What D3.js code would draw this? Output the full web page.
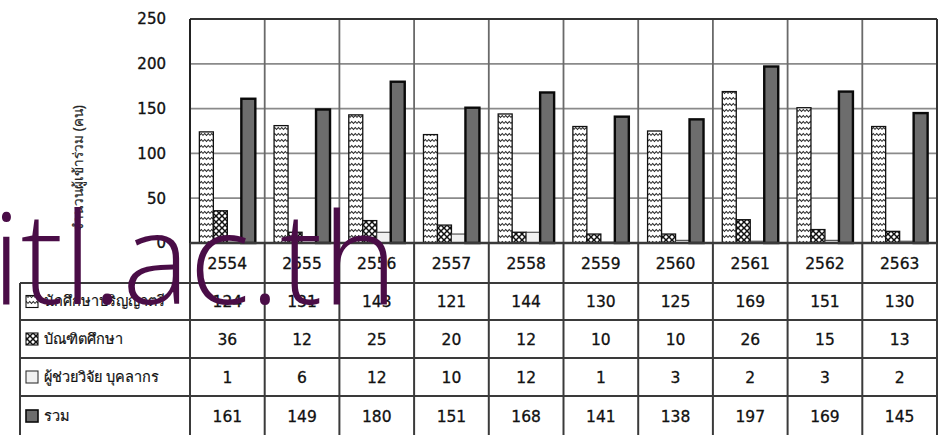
<!DOCTYPE html>
<html><head><meta charset="utf-8">
<script src="https://cdn.jsdelivr.net/npm/d3@7"></script>
<style>
html,body{margin:0;padding:0;background:#fff;}
svg{display:block;}
</style></head>
<body>
<svg id="chart" width="938" height="435"></svg>
<script>
const years = ["2554","2555","2556","2557","2558","2559","2560","2561","2562","2563"];
const seriesNames = ["นักศึกษาปริญญาตรี","บัณฑิตศึกษา","ผู้ช่วยวิจัย บุคลากร","รวม"];
const undergrad = [124,131,143,121,144,130,125,169,151,130];
const graduate  = [36,12,25,20,12,10,10,26,15,13];
const assistant = [1,6,12,10,12,1,3,2,3,2];
const total     = [161,149,180,151,168,141,138,197,169,145];
const yTicks = [0,50,100,150,200,250];
const yLabel = "จำนวนผู้เข้าร่วม (คน)";
const watermark = "itl.ac.th";

const seriesValues = [undergrad, graduate, assistant, total];

const svg = d3.select("#chart");
const defs = svg.append("defs");

// zigzag pattern
const pz = defs.append("pattern").attr("id","zig").attr("patternUnits","userSpaceOnUse")
  .attr("width",7).attr("height",6);
pz.append("rect").attr("width",7).attr("height",6).attr("fill","#fff");
pz.append("path").attr("d","M0,3.5 L1.75,1.5 L3.5,3.5 L5.25,1.5 L7,3.5")
  .attr("fill","none").attr("stroke","#222").attr("stroke-width",1.1);
// cross/check pattern
const pc = defs.append("pattern").attr("id","chk").attr("patternUnits","userSpaceOnUse")
  .attr("width",6).attr("height",6);
pc.append("rect").attr("width",6).attr("height",6).attr("fill","#fff");
pc.append("path").attr("d","M0,0 L6,6 M6,0 L0,6")
  .attr("fill","none").attr("stroke","#111").attr("stroke-width",1.5);

const fills = ["url(#zig)","url(#chk)","#f1f1f1","#6d6d6d"];
const strokes = ["#111","#111","#333","#0a0a0a"];
const strokeW = [1.3,1.3,1,2.4];

const pLeft = 190, pRight = 937, pTop = 19, pBase = 243;
const x0 = d3.scaleBand().domain(years).range([pLeft,pRight]).padding(0);
const x1 = d3.scaleBand().domain(d3.range(4)).range([0,x0.bandwidth()]).paddingInner(0).paddingOuter(0.67);
const y = d3.scaleLinear().domain([0,250]).range([pBase,pTop]);

// gridlines
const grid = svg.append("g");
grid.selectAll("line.h").data(yTicks.filter(d=>d>0 && d<250)).join("line")
  .attr("x1",pLeft).attr("x2",pRight).attr("y1",d=>y(d)).attr("y2",d=>y(d))
  .attr("stroke","#8a8a8a").attr("stroke-width",1.8);
grid.selectAll("line.v").data(years.slice(1)).join("line")
  .attr("x1",d=>x0(d)).attr("x2",d=>x0(d)).attr("y1",pTop).attr("y2",pBase)
  .attr("stroke","#6a6a6a").attr("stroke-width",1.8);

// plot frame
svg.append("line").attr("x1",pLeft).attr("x2",pRight).attr("y1",y(250)).attr("y2",y(250)).attr("stroke","#333").attr("stroke-width",2);
svg.append("line").attr("x1",pLeft).attr("x2",pLeft).attr("y1",pTop).attr("y2",pBase).attr("stroke","#222").attr("stroke-width",2);
svg.append("line").attr("x1",pRight).attr("x2",pRight).attr("y1",pTop).attr("y2",pBase).attr("stroke","#333").attr("stroke-width",2);

// bars
const gBars = svg.append("g");
seriesValues.forEach((vals,si)=>{
  gBars.selectAll(null).data(vals).join("rect")
    .attr("x",(d,i)=>x0(years[i])+x1(si))
    .attr("width",x1.bandwidth())
    .attr("y",d=>y(d))
    .attr("height",d=>pBase-y(d))
    .attr("fill",fills[si]).attr("stroke",strokes[si]).attr("stroke-width",strokeW[si]);
});

// y axis (labels only)
const yAxis = d3.axisLeft(y).tickValues(yTicks).tickSize(0).tickPadding(0);
const ga = svg.append("g").attr("transform",`translate(166,0)`).call(yAxis);
ga.select(".domain").remove();
ga.selectAll("text").attr("font-family","DejaVu Sans, Verdana, sans-serif").attr("font-size",15)
  .attr("fill","#111").attr("stroke","#111").attr("stroke-width",0.35);

svg.append("text").attr("transform","translate(79,168) rotate(-90)")
  .attr("text-anchor","middle").attr("dominant-baseline","middle")
  .attr("font-family","Noto Sans, DejaVu Sans, sans-serif").attr("font-size",13.5).attr("fill","#222")
  .attr("stroke","#222").attr("stroke-width",0.2)
  .text(yLabel);

// data table
const rowTops = [243,283,320,358,396];
const rowBottoms = [283,320,358,396,436];
const tLeft = 20;
const tbl = svg.append("g");
const lineCol = "#3a3a3a";
rowTops.forEach((t,i)=>{
  tbl.append("line").attr("x1", i===0?pLeft:tLeft).attr("x2",pRight).attr("y1",t).attr("y2",t)
    .attr("stroke",lineCol).attr("stroke-width", i===0?2.4:2);
});
tbl.append("line").attr("x1",tLeft).attr("x2",tLeft).attr("y1",283).attr("y2",436).attr("stroke",lineCol).attr("stroke-width",2);
years.forEach(yr=>{
  tbl.append("line").attr("x1",x0(yr)).attr("x2",x0(yr)).attr("y1",243).attr("y2",436).attr("stroke",lineCol).attr("stroke-width",2);
});
tbl.append("line").attr("x1",pRight).attr("x2",pRight).attr("y1",243).attr("y2",436).attr("stroke",lineCol).attr("stroke-width",2);

const numFont = "DejaVu Sans, Verdana, sans-serif";
tbl.selectAll("text.yr").data(years).join("text")
  .attr("x",d=>x0(d)+x0.bandwidth()/2).attr("y",(rowTops[0]+rowBottoms[0])/2+1)
  .attr("text-anchor","middle").attr("dominant-baseline","middle")
  .attr("font-family",numFont).attr("font-size",15.5).attr("fill","#111")
  .attr("stroke","#111").attr("stroke-width",0.3)
  .text(d=>d);
seriesValues.forEach((vals,si)=>{
  const cy = (rowTops[si+1]+rowBottoms[si+1])/2+1;
  tbl.selectAll(null).data(vals).join("text")
    .attr("x",(d,i)=>x0(years[i])+x0.bandwidth()/2).attr("y",cy)
    .attr("text-anchor","middle").attr("dominant-baseline","middle")
    .attr("font-family",numFont).attr("font-size",15.5).attr("fill","#111")
    .attr("stroke","#111").attr("stroke-width",0.3)
    .text(d=>d);
  tbl.append("rect").attr("x",26).attr("y",cy-7).attr("width",12).attr("height",12)
    .attr("fill",fills[si]).attr("stroke",strokes[si]).attr("stroke-width",si===3?1.6:1.1);
  tbl.append("text").attr("x",44).attr("y",cy)
    .attr("dominant-baseline","middle")
    .attr("font-family","Noto Sans, DejaVu Sans, sans-serif").attr("font-size",14.5).attr("fill","#111")
    .attr("stroke","#111").attr("stroke-width",0.2)
    .text(seriesNames[si]);
});

// watermark
svg.append("text").attr("x",-8).attr("y",304)
  .attr("font-family","Open Sans, sans-serif").attr("font-weight",300).attr("font-size",127)
  .attr("fill","#4a0d47").text(watermark);
</script>
</body></html>
